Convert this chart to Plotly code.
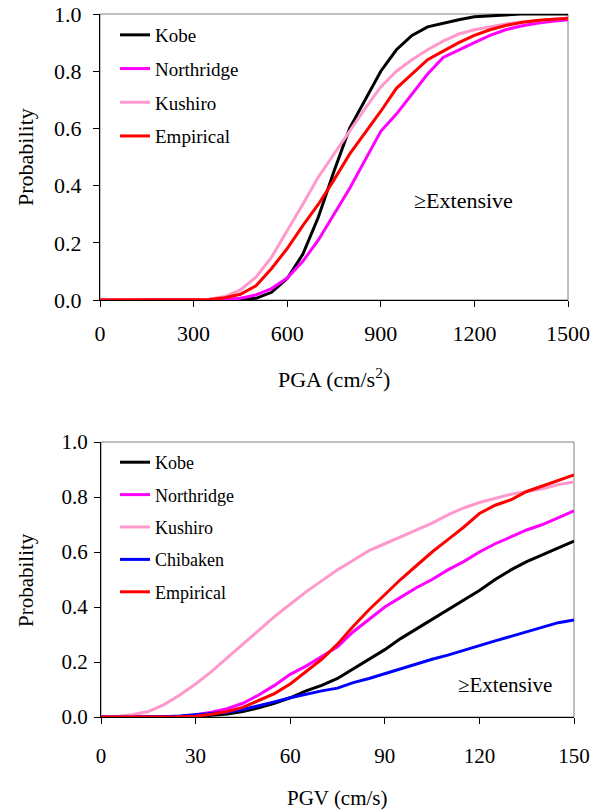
import plotly.graph_objects as go

# ---------------- data ----------------
pga = [0, 300, 350, 400, 450, 500, 550, 600, 650, 700, 750, 800, 850, 900, 950,
       1000, 1050, 1100, 1150, 1200, 1250, 1300, 1350, 1400, 1450, 1500]
kobe_pga = [0, 0, 0, 0, 0.001, 0.006, 0.027, 0.075, 0.16, 0.29, 0.45, 0.60, 0.70, 0.80,
            0.875, 0.925, 0.955, 0.968, 0.98, 0.99, 0.994, 0.997, 1.0, 1.0, 1.0, 1.0]
northridge_pga = [0, 0, 0, 0.002, 0.006, 0.018, 0.04, 0.077, 0.135, 0.21, 0.30, 0.39, 0.49,
                  0.59, 0.65, 0.72, 0.79, 0.848, 0.875, 0.90, 0.925, 0.945, 0.958, 0.968,
                  0.975, 0.98]
kushiro_pga = [0, 0, 0.003, 0.012, 0.035, 0.08, 0.15, 0.24, 0.335, 0.43, 0.51, 0.59, 0.67,
               0.745, 0.80, 0.84, 0.875, 0.905, 0.93, 0.945, 0.955, 0.965, 0.972, 0.978,
               0.982, 0.985]
empirical_pga = [0, 0, 0.002, 0.008, 0.02, 0.05, 0.11, 0.18, 0.26, 0.335, 0.42, 0.51, 0.585,
                 0.66, 0.74, 0.79, 0.84, 0.87, 0.90, 0.925, 0.945, 0.96, 0.97, 0.977,
                 0.982, 0.985]

pgv = [0, 5, 10, 15, 20, 25, 30, 35, 40, 45, 50, 55, 60, 65, 70, 75, 80, 85, 90, 95,
       100, 105, 110, 115, 120, 125, 130, 135, 140, 145, 150]
kobe_pgv = [0, 0, 0, 0, 0, 0, 0.002, 0.006, 0.011, 0.02, 0.033, 0.05, 0.07, 0.095, 0.115,
            0.14, 0.175, 0.21, 0.245, 0.285, 0.32, 0.357, 0.39, 0.425, 0.46, 0.50, 0.535,
            0.565, 0.59, 0.615, 0.64]
northridge_pgv = [0, 0, 0, 0, 0, 0.002, 0.008, 0.017, 0.03, 0.05, 0.08, 0.115, 0.155, 0.185,
                  0.22, 0.255, 0.31, 0.355, 0.40, 0.435, 0.47, 0.50, 0.535, 0.565, 0.60,
                  0.63, 0.655, 0.68, 0.70, 0.725, 0.75]
kushiro_pgv = [0, 0.002, 0.008, 0.02, 0.045, 0.08, 0.12, 0.165, 0.215, 0.265, 0.315, 0.365,
               0.41, 0.455, 0.495, 0.535, 0.57, 0.605, 0.63, 0.655, 0.68, 0.705, 0.735,
               0.76, 0.78, 0.795, 0.81, 0.82, 0.83, 0.845, 0.855]
chibaken_pgv = [0, 0, 0, 0, 0.001, 0.004, 0.008, 0.012, 0.017, 0.027, 0.04, 0.055, 0.07,
                0.083, 0.095, 0.105, 0.125, 0.14, 0.158, 0.175, 0.192, 0.21, 0.225, 0.243,
                0.26, 0.277, 0.293, 0.31, 0.327, 0.343, 0.353]
empirical_pgv = [0, 0, 0, 0, 0, 0.001, 0.003, 0.01, 0.02, 0.035, 0.06, 0.085, 0.12, 0.165,
                 0.21, 0.265, 0.33, 0.39, 0.445, 0.50, 0.55, 0.60, 0.645, 0.69, 0.74, 0.77,
                 0.79, 0.82, 0.84, 0.86, 0.88]

top_series = [("Kobe", kobe_pga, "#000000"),
              ("Northridge", northridge_pga, "#FF00FF"),
              ("Kushiro", kushiro_pga, "#FF99CC"),
              ("Empirical", empirical_pga, "#FF0000")]
bot_series = [("Kobe", kobe_pgv, "#000000"),
              ("Northridge", northridge_pgv, "#FF00FF"),
              ("Kushiro", kushiro_pgv, "#FF99CC"),
              ("Chibaken", chibaken_pgv, "#0000FF"),
              ("Empirical", empirical_pgv, "#FF0000")]

pga_ticks = [0, 300, 600, 900, 1200, 1500]
pgv_ticks = [0, 30, 60, 90, 120, 150]
prob_ticks = [0, 0.2, 0.4, 0.6, 0.8, 1.0]

# ---------------- figure ----------------
OFF = 8                      # default page body margin
W, H = 605 - OFF, 811 - OFF
FONT = "Liberation Serif, Times New Roman, serif"

fig = go.Figure()
for name, ys, col in top_series:
    fig.add_trace(go.Scatter(x=pga, y=ys, mode="lines", name=name,
                             line=dict(color=col, width=3),
                             xaxis="x", yaxis="y", legend="legend",
                             legendgroup="t" + name))
for name, ys, col in bot_series:
    fig.add_trace(go.Scatter(x=pgv, y=ys, mode="lines", name=name,
                             line=dict(color=col, width=3),
                             xaxis="x2", yaxis="y2", legend="legend2",
                             legendgroup="b" + name))

def px_x(p):
    return (p - OFF) / W

def px_y(p):
    return 1 - (p - OFF) / H

top_dom_x = [px_x(100), px_x(568)]
top_dom_y = [px_y(300), px_y(14)]
bot_dom_x = [px_x(101), px_x(574)]
bot_dom_y = [px_y(717), px_y(442)]

axis_common = dict(showline=True, linecolor="black", linewidth=1, ticks="outside",
                   ticklen=6, tickcolor="black", showgrid=False, zeroline=False,
                   mirror=False, ticklabeloverflow="allow")

fig.update_layout(
    width=W, height=H,
    margin=dict(l=0, r=0, t=0, b=0, autoexpand=False),
    paper_bgcolor="white", plot_bgcolor="white",
    font=dict(family=FONT, color="black"),
    showlegend=True,
    xaxis=dict(domain=top_dom_x, range=[0, 1500], tickvals=pga_ticks,
               tickfont=dict(size=22), ticklabelstandoff=8, anchor="y", **axis_common),
    yaxis=dict(domain=top_dom_y, range=[0, 1.0], tickvals=prob_ticks, tickformat=".1f",
               tickfont=dict(size=22), ticklabelstandoff=7, anchor="x", **axis_common),
    xaxis2=dict(domain=bot_dom_x, range=[0, 150], tickvals=pgv_ticks,
                tickfont=dict(size=21), ticklabelstandoff=14, anchor="y2", **axis_common),
    yaxis2=dict(domain=bot_dom_y, range=[0, 1.0], tickvals=prob_ticks, tickformat=".1f",
                tickfont=dict(size=21), ticklabelstandoff=2, anchor="x2", **axis_common),
    legend=dict(x=px_x(115), y=px_y(16), xanchor="left", yanchor="top",
                font=dict(size=19), tracegroupgap=6, bgcolor="rgba(0,0,0,0)"),
    legend2=dict(x=px_x(115), y=px_y(444), xanchor="left", yanchor="top",
                 font=dict(size=18), tracegroupgap=6, bgcolor="rgba(0,0,0,0)"),
)

# grey plot-area borders
for xd, yd in [(top_dom_x, top_dom_y), (bot_dom_x, bot_dom_y)]:
    fig.add_shape(type="rect", xref="paper", yref="paper",
                  x0=xd[0], x1=xd[1], y0=yd[0], y1=yd[1],
                  line=dict(color="#808080", width=1), layer="below")

ann = [
    dict(text="PGA (cm/s<sup>2</sup>)", x=px_x(334), y=px_y(378), size=22, angle=0),
    dict(text="Probability", x=px_x(26), y=px_y(157), size=22, angle=-90),
    dict(text="PGV (cm/s)", x=px_x(337), y=px_y(798), size=21, angle=0),
    dict(text="Probability", x=px_x(26), y=px_y(580), size=21, angle=-90),
    dict(text="≥Extensive", x=px_x(463), y=px_y(200), size=22, angle=0),
    dict(text="≥Extensive", x=px_x(505), y=px_y(685), size=21, angle=0),
]
for a in ann:
    fig.add_annotation(text=a["text"], x=a["x"], y=a["y"], xref="paper", yref="paper",
                       xanchor="center", yanchor="middle", showarrow=False,
                       textangle=a["angle"], font=dict(size=a["size"], family=FONT,
                                                       color="black"))

fig.write_html("out.html")
